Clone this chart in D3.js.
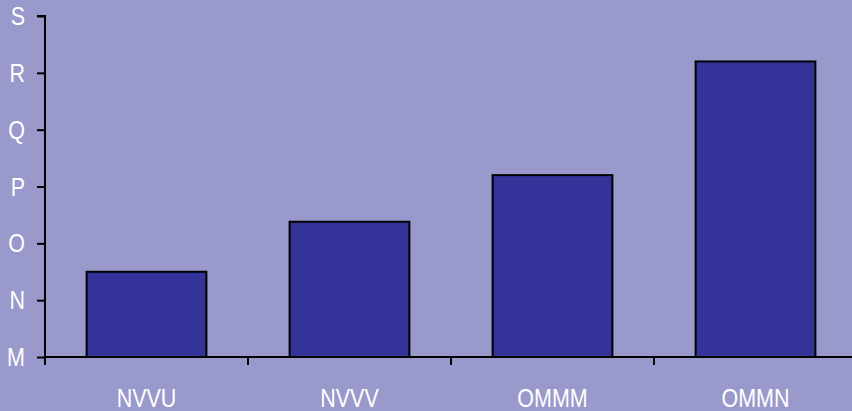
<!DOCTYPE html>
<html>
<head>
<meta charset="utf-8">
<script src="https://cdn.jsdelivr.net/npm/d3@7"></script>
<style>
  html, body { margin: 0; padding: 0; background: #9999cc; }
  svg { display: block; }
  text { font-family: "Liberation Sans", Arial, sans-serif; fill: #ffffff; }
</style>
</head>
<body>
<svg id="chart" width="852" height="411"></svg>
<script>
const categories = ["NVVU", "NVVV", "OMMM", "OMMN"];
const values = [1.5, 2.38, 3.2, 5.2];
const yTickValues = [0, 1, 2, 3, 4, 5, 6];
const yTickLabels = ["M", "N", "O", "P", "Q", "R", "S"];

const svg = d3.select("#chart");
const W = 852, H = 411;
const plotLeft = 45, plotRight = 857, plotTop = 16, plotBottom = 357;
const fontSize = 26.5, narrow = 0.81;

svg.append("rect").attr("width", W).attr("height", H).attr("fill", "#9999cc");

const x = d3.scaleBand().domain(categories).range([plotLeft, plotRight]).padding(0);
const y = d3.scaleLinear().domain([0, 6]).range([plotBottom, plotTop]);
const barW = x.bandwidth() * 0.59;

// bars
svg.selectAll("rect.bar").data(values).enter().append("rect")
  .attr("class", "bar")
  .attr("x", (d, i) => x(categories[i]) + (x.bandwidth() - barW) / 2)
  .attr("y", d => y(d))
  .attr("width", barW)
  .attr("height", d => y(0) - y(d))
  .attr("fill", "#333399")
  .attr("stroke", "#000")
  .attr("stroke-width", 2);

// y axis: line and ticks from d3.axisLeft, labels set in a condensed style
const yAxis = d3.axisLeft(y).tickValues(yTickValues).tickFormat("").tickSize(8);
const gy = svg.append("g").attr("transform", `translate(${plotLeft},0)`).call(yAxis);
gy.select(".domain").attr("stroke", "#000").attr("stroke-width", 2).attr("d", `M-8,${plotTop}H0V${plotBottom}`);
gy.selectAll(".tick line").attr("stroke", "#000").attr("stroke-width", 2);
svg.selectAll("text.ylab").data(yTickValues).enter().append("text")
  .attr("class", "ylab")
  .attr("transform", d => `translate(25,${y(d) + 9}) scale(${narrow},1)`)
  .attr("text-anchor", "end")
  .style("font-size", fontSize + "px")
  .text((d, i) => yTickLabels[i]);

// x axis
const xTicks = categories.map(c => x(c)).concat([plotRight]);
const gx = svg.append("g").attr("transform", `translate(0,${plotBottom})`);
gx.append("line").attr("x1", plotLeft).attr("x2", W).attr("y1", 0).attr("y2", 0)
  .attr("stroke", "#000").attr("stroke-width", 2);
gx.selectAll("line.tick").data(xTicks).enter().append("line")
  .attr("class", "tick")
  .attr("x1", d => d).attr("x2", d => d).attr("y1", 0).attr("y2", 8)
  .attr("stroke", "#000").attr("stroke-width", 2);
svg.selectAll("text.xlab").data(categories).enter().append("text")
  .attr("class", "xlab")
  .attr("transform", d => `translate(${x(d) + x.bandwidth() / 2},407) scale(${narrow},1)`)
  .attr("text-anchor", "middle")
  .style("font-size", fontSize + "px")
  .text(d => d);
</script>
</body>
</html>
